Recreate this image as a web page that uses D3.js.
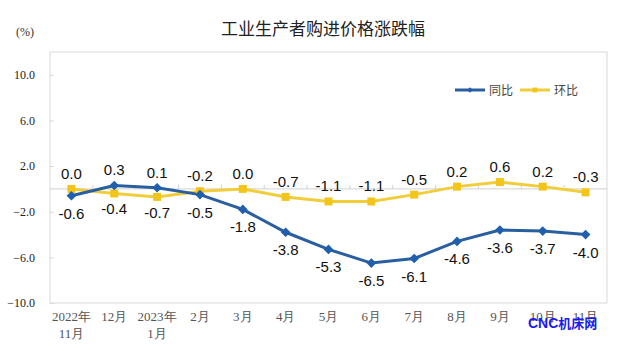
<!DOCTYPE html>
<html>
<head>
<meta charset="utf-8">
<script src="https://cdn.jsdelivr.net/npm/d3@7"></script>
<style>
  body { margin: 0; background: #fff; }
  svg { display: block; }
</style>
</head>
<body>
<svg id="chart"></svg>
<script>
// 数据
const months = ["2022年\n11月", "12月", "2023年\n1月", "2月", "3月", "4月", "5月", "6月", "7月", "8月", "9月", "10月", "11月"];
const yoy = [-0.6, 0.3, 0.1, -0.5, -1.8, -3.8, -5.3, -6.5, -6.1, -4.6, -3.6, -3.7, -4.0];
const mom = [0.0, -0.4, -0.7, -0.2, 0.0, -0.7, -1.1, -1.1, -0.5, 0.2, 0.6, 0.2, -0.3];
const yTicks = [10, 6, 2, -2, -6, -10];
const seriesNames = ["同比", "环比"];

const W = 633, H = 351;
const margin = { top: 52, right: 26, bottom: 48, left: 50 };
const width = W - margin.left - margin.right;
const height = H - margin.top - margin.bottom;

const blue = "#1f5fad", blueLine = "#2a5f9f";
const yellow = "#f3c51b", yellowLine = "#f2cd3a";

const svg = d3.select("#chart").attr("width", W).attr("height", H);

// 标题
svg.append("text")
    .attr("x", 323).attr("y", 35)
    .attr("text-anchor", "middle")
    .style("font-family", "'Noto Sans CJK SC', sans-serif")
    .style("font-size", "17px")
    .attr("fill", "#222")
    .text("工业生产者购进价格涨跌幅");

svg.append("text")
    .attr("x", 16).attr("y", 36)
    .style("font-family", "'Liberation Serif', serif")
    .style("font-size", "12px")
    .attr("fill", "#333")
    .text("(%)");

const g = svg.append("g").attr("transform", `translate(${margin.left},${margin.top})`);

const x = d3.scaleBand().domain(months).range([0, width]);
const y = d3.scaleLinear().domain([-10, 12]).range([height, 0]);
const cx = d => x(d) + x.bandwidth() / 2;

// 边框
g.append("rect")
    .attr("width", width).attr("height", height)
    .attr("fill", "none").attr("stroke", "#d9d9d9");

// y 轴
g.append("g")
    .call(d3.axisLeft(y).tickValues(yTicks).tickSize(-4).tickPadding(15).tickFormat(d3.format(".1f")))
    .call(a => a.select(".domain").remove())
    .call(a => a.selectAll("line").attr("stroke", "#d9d9d9"))
    .call(a => a.selectAll("text")
        .style("font-family", "'Liberation Serif', serif")
        .style("font-size", "12px")
        .attr("fill", "#222"));

// 零线与刻度
g.append("line")
    .attr("x1", 0).attr("x2", width)
    .attr("y1", y(0)).attr("y2", y(0))
    .attr("stroke", "#d0d0d0");

g.selectAll(".xtick")
    .data(months.slice(1))
    .enter().append("line")
    .attr("x1", d => x(d)).attr("x2", d => x(d))
    .attr("y1", y(0)).attr("y2", y(0) - 4)
    .attr("stroke", "#d0d0d0");

// x 轴标签
const xl = g.selectAll(".xlabel")
    .data(months)
    .enter().append("text")
    .attr("text-anchor", "middle")
    .attr("transform", d => `translate(${cx(d)},${height + 18})`)
    .style("font-family", "'Liberation Serif', serif")
    .style("font-size", "13px")
    .attr("fill", "#555");
xl.selectAll("tspan")
    .data(d => d.split("\n"))
    .enter().append("tspan")
    .attr("x", 0)
    .attr("dy", (d, i) => i === 0 ? 0 : 17)
    .text(d => d);

// 折线
const line = d3.line().x((d, i) => cx(months[i])).y(d => y(d));

g.append("path").datum(mom)
    .attr("fill", "none").attr("stroke", yellowLine).attr("stroke-width", 3)
    .attr("d", line);
g.append("path").datum(yoy)
    .attr("fill", "none").attr("stroke", blueLine).attr("stroke-width", 3)
    .attr("d", line);

g.selectAll(".sq")
    .data(mom)
    .enter().append("rect")
    .attr("x", (d, i) => cx(months[i]) - 4)
    .attr("y", d => y(d) - 4)
    .attr("width", 8).attr("height", 8)
    .attr("fill", yellow);

const diamond = d3.symbol().type(d3.symbolDiamond2).size(60);
g.selectAll(".dm")
    .data(yoy)
    .enter().append("path")
    .attr("d", diamond)
    .attr("transform", (d, i) => `translate(${cx(months[i])},${y(d)})`)
    .attr("fill", blue);

// 数据标签：较大值在上，较小值在下
const labelStyle = s => s
    .attr("text-anchor", "middle")
    .style("font-family", "'Liberation Sans', Arial, sans-serif")
    .style("font-size", "15px")
    .attr("fill", "#111");

months.forEach((m, i) => {
    const upYoy = yoy[i] > mom[i];
    g.append("text").call(labelStyle)
        .attr("x", cx(m))
        .attr("y", upYoy ? y(yoy[i]) - 10 : y(yoy[i]) + 23)
        .text(yoy[i].toFixed(1));
    g.append("text").call(labelStyle)
        .attr("x", cx(m))
        .attr("y", upYoy ? y(mom[i]) + 21 : y(mom[i]) - 10)
        .text(mom[i].toFixed(1));
});

// 图例
const legend = svg.append("g").attr("transform", "translate(455,90)");
const lg = legend.selectAll("g")
    .data(seriesNames)
    .enter().append("g")
    .attr("transform", (d, i) => `translate(${i * 65},0)`);
lg.append("line")
    .attr("x1", 0).attr("x2", 30)
    .attr("stroke", (d, i) => i === 0 ? blueLine : yellowLine)
    .attr("stroke-width", 3);
lg.append("path")
    .attr("transform", "translate(15,0)")
    .attr("d", (d, i) => i === 0
        ? d3.symbol().type(d3.symbolDiamond2).size(18)()
        : d3.symbol().type(d3.symbolSquare2).size(30)())
    .attr("fill", (d, i) => i === 0 ? blue : yellow);
lg.append("text")
    .attr("x", 34).attr("y", 4.5)
    .style("font-family", "'Noto Sans CJK SC', sans-serif")
    .style("font-size", "12px")
    .attr("fill", "#444")
    .text(d => d);

// 水印
const wm = svg.append("text")
    .attr("x", 528).attr("y", 328)
    .style("font-weight", "bold")
    .attr("fill", "#1a1aee");
wm.append("tspan")
    .style("font-family", "'Liberation Sans', sans-serif")
    .style("font-size", "14px")
    .text("CNC");
wm.append("tspan")
    .style("font-family", "'Noto Sans CJK SC', sans-serif")
    .style("font-size", "13px")
    .text("机床网");
</script>
</body>
</html>
